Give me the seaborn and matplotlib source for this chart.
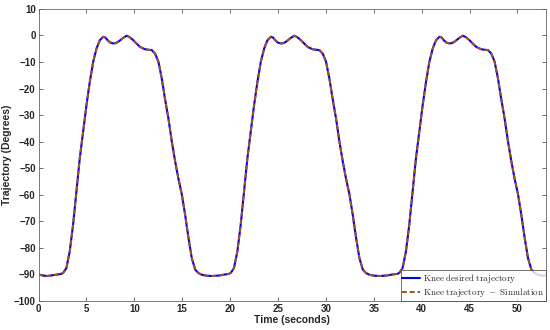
import numpy as np
import pandas as pd
import seaborn as sns
import matplotlib.pyplot as plt

# time (s) and knee angle (deg), three gait cycles
time_s = [
    0.0, 0.4, 0.9, 1.5, 2.0, 2.39, 2.6, 2.91, 3.26, 3.61, 3.96, 4.31, 4.66,
    5.01, 5.36, 5.71, 6.06, 6.40, 6.75, 7.0, 7.21, 7.5, 7.8, 8.05, 8.32, 8.6,
    8.85, 9.2, 9.5, 9.9, 10.25, 10.6, 11.12, 11.5, 11.82, 12.17, 12.52, 12.87,
    13.2, 13.56, 13.92, 14.27, 14.6, 14.97, 15.31, 15.66, 16.0, 16.36, 16.7,
    17.1, 17.6, 18.2, 18.9, 19.5,
    19.89, 20.1, 20.41, 20.76, 21.11, 21.46, 21.81, 22.16, 22.51, 22.86,
    23.21, 23.56, 23.90, 24.25, 24.5, 24.71, 25.0, 25.3, 25.55, 25.82, 26.1,
    26.35, 26.7, 27.0, 27.4, 27.75, 28.1, 28.62, 29.0, 29.32, 29.67, 30.02,
    30.37, 30.7, 31.06, 31.42, 31.77, 32.1, 32.47, 32.81, 33.16, 33.5, 33.86,
    34.2, 34.6, 35.1, 35.7, 36.4, 37.0,
    37.49, 37.7, 38.01, 38.36, 38.71, 39.06, 39.41, 39.76, 40.11, 40.46,
    40.81, 41.16, 41.50, 41.85, 42.1, 42.31, 42.6, 42.9, 43.15, 43.42, 43.7,
    43.95, 44.3, 44.6, 45.0, 45.35, 45.7, 46.22, 46.6, 46.92, 47.27, 47.62,
    47.97, 48.3, 48.66, 49.02, 49.37, 49.7, 50.07, 50.41, 50.76, 51.1, 51.46,
    51.8, 52.2, 52.6, 53.0,
]
knee_desired = [
    -90.0, -90.4, -90.6, -90.3, -90.0, -89.8, -89.3, -87.6, -81.4, -71.3,
    -58.8, -46.2, -36.2, -26.2, -17.4, -9.9, -4.9, -1.8, -0.5, -0.8, -1.8,
    -2.7, -3.0, -2.9, -2.4, -1.6, -0.9, -0.1, -0.6, -1.8, -3.1, -4.3, -5.2,
    -5.4, -5.5, -6.8, -9.9, -16.2, -23.7, -31.2, -40.0, -47.5, -53.8, -60.0,
    -67.6, -76.3, -83.8, -88.2, -89.5,
    -90.2, -90.5, -90.6, -90.4, -90.0,
    -89.8, -89.3, -87.6, -81.4, -71.3, -58.8, -46.2, -36.2, -26.2, -17.4,
    -9.9, -4.9, -1.8, -0.5, -0.8, -1.8, -2.7, -3.0, -2.9, -2.4, -1.6, -0.9,
    -0.1, -0.6, -1.8, -3.1, -4.3, -5.2, -5.4, -5.5, -6.8, -9.9, -16.2, -23.7,
    -31.2, -40.0, -47.5, -53.8, -60.0, -67.6, -76.3, -83.8, -88.2, -89.5,
    -90.2, -90.5, -90.6, -90.4, -90.0,
    -89.8, -89.3, -87.6, -81.4, -71.3, -58.8, -46.2, -36.2, -26.2, -17.4,
    -9.9, -4.9, -1.8, -0.5, -0.8, -1.8, -2.7, -3.0, -2.9, -2.4, -1.6, -0.9,
    -0.1, -0.6, -1.8, -3.1, -4.3, -5.2, -5.4, -5.5, -6.8, -9.9, -16.2, -23.7,
    -31.2, -40.0, -47.5, -53.8, -60.0, -67.6, -76.3, -83.8, -88.2, -89.5,
    -90.2, -90.5, -90.6,
]
# simulation overlaps the desired trajectory at this scale
knee_sim = list(knee_desired)

df = pd.DataFrame({"t": time_s, "desired": knee_desired, "sim": knee_sim})

sns.set_style("ticks")
plt.rcParams["font.family"] = ["Liberation Sans", "DejaVu Sans"]
plt.rcParams["mathtext.fontset"] = "cm"

fig = plt.figure(figsize=(5.5, 3.3), dpi=100)
ax = fig.add_axes([0.070, 0.088, 0.923, 0.885])

sns.lineplot(data=df, x="t", y="desired", ax=ax, color="#0000ee", lw=1.5,
             label=r"$\mathrm{Knee\ desired\ trajectory}$")
sns.lineplot(data=df, x="t", y="sim", ax=ax, color="#a8521e", lw=1.4,
             linestyle=(0, (2.5, 1.5)),
             label=r"$\mathrm{Knee\ trajectory\ -\ Simulation}$")

ax.set_xlim(0, 53)
ax.set_ylim(-100, 10)
ax.set_xticks(np.arange(0, 51, 5))
ax.set_yticks(np.arange(-100, 11, 10))
ax.tick_params(direction="in", top=True, right=True, length=3, width=0.6,
               color="#555555", labelsize=7, pad=2)
for lab in ax.get_xticklabels() + ax.get_yticklabels():
    lab.set_fontweight("bold")
for s in ax.spines.values():
    s.set_visible(True)
    s.set_linewidth(0.6)
    s.set_color("#666666")

ax.set_xlabel("Time (seconds)", fontsize=7.5, fontweight="bold", labelpad=1)
ax.set_ylabel("Trajectory (Degrees)", fontsize=7.5, fontweight="bold", labelpad=1)

leg = ax.legend(loc="lower right", fontsize=6.5, frameon=True, fancybox=False,
                borderaxespad=0, handlelength=2.0, handletextpad=0.3,
                borderpad=0.2, labelspacing=0.15)
leg.get_frame().set_edgecolor("#333333")
leg.get_frame().set_linewidth(0.6)

fig.savefig("out.png", dpi=100)
